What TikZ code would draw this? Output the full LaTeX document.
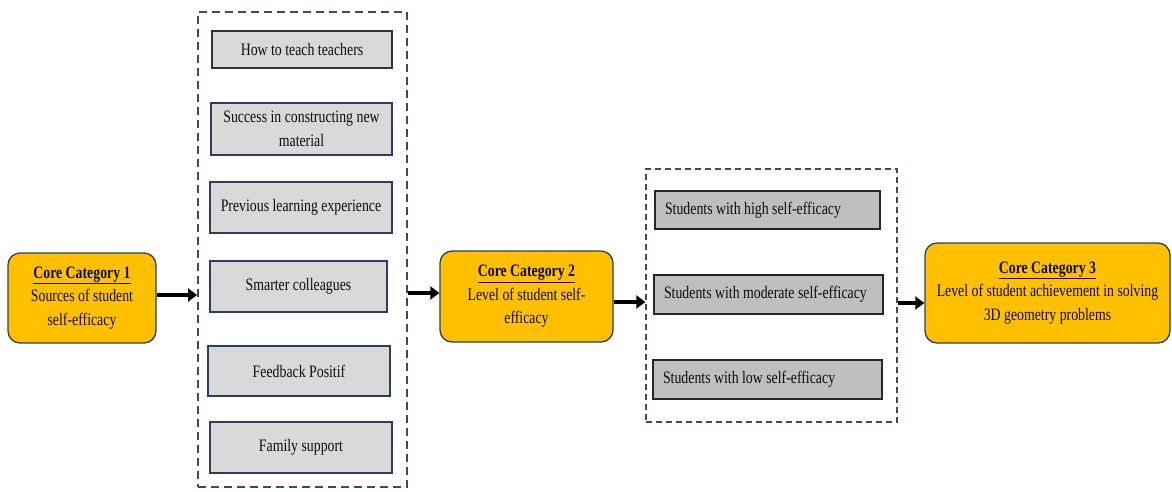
\documentclass[tikz,border=0pt]{standalone}
\usepackage{fontspec}
\setmainfont{Liberation Serif}[FakeStretch=0.79]
\usetikzlibrary{arrows.meta}
\definecolor{gold}{HTML}{FFC000}
\definecolor{navy}{HTML}{2F3D5C}
\definecolor{dashc}{HTML}{3B4A6B}
\definecolor{lgray}{HTML}{D9D9D9}
\definecolor{mgray}{HTML}{BFBFBF}
\definecolor{txt}{HTML}{0D0D0D}
\begin{document}
\begin{tikzpicture}[x=1pt,y=-1pt,
  every node/.style={font=\fontsize{17.5}{23.5}\selectfont, text=txt},
  core/.style={draw=navy, line width=1.3pt, fill=gold, rounded corners=12pt, align=center, inner sep=0pt},
  leftbox/.style={draw=navy, line width=1.2pt, fill=lgray, align=center, inner sep=0pt},
  rightbox/.style={draw=black!85, line width=1.2pt, fill=mgray, align=flush left, inner xsep=10pt, inner ysep=0pt},
  groupA/.style={draw=dashc, line width=1.8pt, dash pattern=on 8pt off 5pt, inner sep=0pt},
  groupB/.style={draw=dashc, line width=1.3pt, dash pattern=on 6pt off 4pt, inner sep=0pt},
  arr/.style={line width=4pt, -{Triangle[length=9pt,width=13pt]}, black}
]
\useasboundingbox (0,0) rectangle (1172,491);

% dashed groups
\node[groupA, minimum width=209pt, minimum height=475pt] (d1) at (302.5,249.5) {};
\node[groupB, minimum width=251pt, minimum height=253pt] (d2) at (771.5,295.5) {};

% core categories
\node[core, minimum width=148pt, minimum height=90pt] (c1) at (82,298)
  {\textbf{\underline{Core Category 1}}\\Sources of student\\self-efficacy};
\node[core, minimum width=173pt, minimum height=91pt] (c2) at (526.5,296.5)
  {\textbf{\underline{Core Category 2}}\\Level of student self-\\efficacy};
\node[core, minimum width=245pt, minimum height=100pt] (c3) at (1047.5,293)
  {\textbf{\underline{Core Category 3}}\\Level of student achievement in solving\\3D geometry problems};

% sources
\node[leftbox, draw=black!80, minimum width=180pt, minimum height=37pt] (g1) at (302,49.5) {How to teach teachers};
\node[leftbox, minimum width=181pt, minimum height=52pt] (g2) at (301.5,129) {Success in constructing new\\material};
\node[leftbox, minimum width=182pt, minimum height=51pt] (g3) at (301,207.5) {Previous learning experience};
\node[leftbox, minimum width=177pt, minimum height=51pt] (g4) at (298.5,286.5) {Smarter colleagues};
\node[leftbox, minimum width=182pt, minimum height=50pt] (g5) at (299,371) {Feedback Positif};
\node[leftbox, minimum width=182pt, minimum height=51pt] (g6) at (301,447.5) {Family support};

% levels
\node[rightbox, text width=205pt, minimum height=38pt] (r1) at (767.5,210) {\mbox{Students with high self-efficacy}};
\node[rightbox, text width=209pt, minimum height=39pt] (r2) at (768.5,294.5) {\mbox{Students with moderate self-efficacy}};
\node[rightbox, text width=209pt, minimum height=39pt] (r3) at (767.5,379.5) {\mbox{Students with low self-efficacy}};

% arrows
\coordinate (a1) at ([yshift=3pt]c1.east);
\draw[arr] (a1) -- (a1 -| d1.west);
\coordinate (a2) at ([yshift=3.5pt]c2.west);
\draw[arr] (a2 -| d1.east) -- (a2);
\coordinate (a3) at ([yshift=-5.5pt]c2.east);
\draw[arr] (a3) -- (a3 -| d2.west);
\coordinate (a4) at ([yshift=-10pt]c3.west);
\draw[arr] (a4 -| d2.east) -- (a4);
\end{tikzpicture}
\end{document}
